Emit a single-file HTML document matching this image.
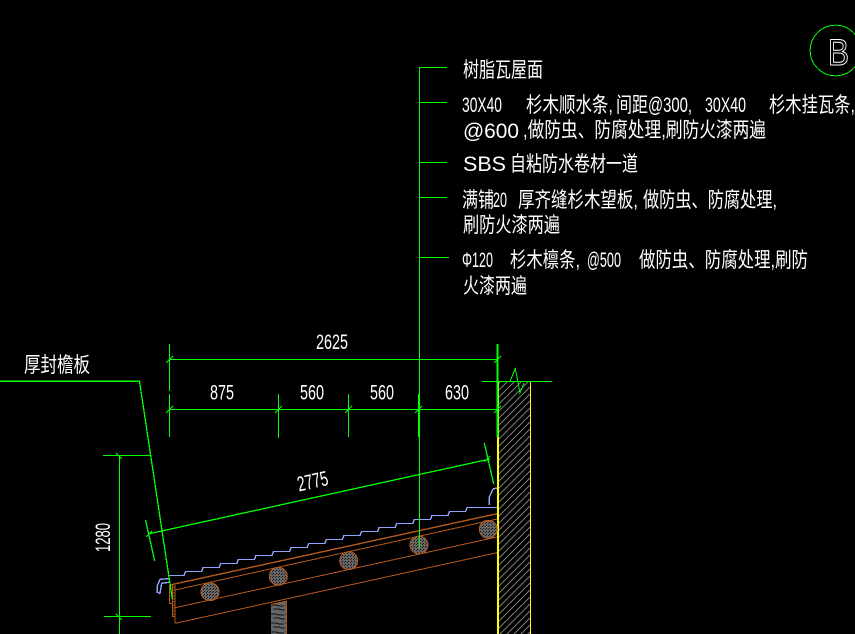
<!DOCTYPE html>
<html>
<head>
<meta charset="utf-8">
<style>
html,body{margin:0;padding:0;background:#000;width:855px;height:634px;overflow:hidden}
svg{display:block;shape-rendering:crispEdges}
.t{font-family:"Liberation Sans","WenQuanYi Zen Hei","Noto Sans CJK SC",sans-serif;fill:#fff;font-size:21px}
.n{font-family:"Liberation Sans",sans-serif;fill:#fff;font-size:21px}
.g{stroke:#0f0;stroke-width:1;fill:none}
.g2{stroke:#0f0;stroke-width:1.3;fill:none}
.br{stroke:#b4591a;stroke-width:1;fill:none}
.bl{stroke:#8ca5ff;stroke-width:1.4;fill:none}
.y{stroke:#ff0;stroke-width:1;fill:none}
</style>
</head>
<body>
<svg width="855" height="634" viewBox="0 0 855 634" xmlns="http://www.w3.org/2000/svg">
<defs>
<pattern id="h" patternUnits="userSpaceOnUse" width="7" height="7">
<path d="M-1 8L8 -1M-1 1L1 -1M6 8L8 6" stroke="#777" stroke-width="1" fill="none"/>
</pattern>
<pattern id="d" patternUnits="userSpaceOnUse" width="3" height="3">
<rect width="3" height="3" fill="#666"/>
<rect x="0" y="0" width="1" height="1" fill="#111"/>
<rect x="2" y="1" width="1" height="1" fill="#222"/>
</pattern>
<pattern id="w" patternUnits="userSpaceOnUse" width="15" height="9">
<rect width="15" height="9" fill="#666"/>
<path d="M0 2H6L9 3H14M3 6H9L12 7H15" stroke="#111" stroke-width="1" fill="none"/>
</pattern>
</defs>
<rect width="855" height="634" fill="#000"/>

<!-- wall -->
<rect x="498" y="382" width="32" height="252" fill="url(#h)"/>
<path class="y" d="M497.5 381.5H530.5V634"/>
<rect x="497" y="381" width="2" height="253" fill="#ff0"/>

<!-- post -->
<path d="M271 604.5L286 601.2V634H271Z" fill="url(#w)"/>
<path class="br" d="M271 604.5L286.3 601.2V634"/>

<!-- purlins -->
<g stroke="#b4591a" stroke-width="1" fill="url(#d)">
<circle cx="210" cy="591.7" r="9"/>
<circle cx="278.3" cy="576.3" r="9"/>
<circle cx="348.7" cy="560.7" r="9"/>
<circle cx="419" cy="545" r="9"/>
<circle cx="488.3" cy="529.3" r="9"/>
</g>

<!-- rafters -->
<path d="M170 585L497 513.7" stroke="#b4591a" stroke-width="1.4" fill="none"/>
<path class="br" d="M175 590L497 519"/>
<path class="br" d="M175 607.7L497 537"/>
<path class="br" d="M175.3 623.3L497 552.7"/>
<path class="br" d="M175 585V623.3M169.3 585V603.3H172.3M172.3 585V616.7H175"/>
<path d="M172.5 587H175M172.5 590H175M172.5 593H175M172.5 596H175M172.5 599H175M172.5 602H175M172.5 605H175M172.5 608H175M172.5 611H175M172.5 614H175" stroke="#b4591a" stroke-width="1"/>

<!-- roof tile line -->
<path class="bl" d="M169 575.5H184l1.5-4h16.1l1.5-4h16.1l1.5-4h16.1l1.5-4h16.1l1.5-4h16.1l1.5-4h16.1l1.5-4h16.1l1.5-4h16.1l1.5-4h16.1l1.5-4h16.1l1.5-4h16.1l1.5-4h16.1l1.5-4h16.1l1.5-4h16.1l1.5-4h16.1l1.5-4h16.1l1.5-4H497"/>
<path class="bl" d="M169 578.7L160 579.3L157.3 586V592.3L160 593.3L161 587.3L161.7 583.3L169 582.3"/>
<path class="bl" d="M489.3 505V497L493 489L497 488"/>

<!-- leader & labels ticks -->
<path class="g" d="M419.5 68V548"/>
<path class="g" d="M419 67.5H447M419 197.5H447M419 257.5H449"/>
<path class="g2" d="M419 102.5H447M419 162.5H447"/>

<!-- dimensions -->
<path class="g" d="M169.5 344V391M169.5 394V437M278.5 394V438M348.5 394V437"/>
<path d="M497.5 344V437" stroke="#0f0" stroke-width="2" fill="none"/>
<path class="g2" d="M418.5 394V437"/>
<path class="g" d="M169.5 359.5H497.5M169.5 409.5H497.5"/>
<path class="g" d="M166 363L173 356M494 363L501 356M166 413L173 406M275 413L282 406M345 413L352 406M415 413L422 406M494 413L501 406"/>

<!-- break line -->
<path class="g" d="M482 381.5H552"/>
<path class="g" d="M510 381.5L515.3 368.5L520 393L524 383"/>

<!-- leader to eave -->
<path class="g2" d="M0 381.3H139.5L172.3 599"/>

<!-- 1280 dim -->
<path class="g" d="M119.5 455V634M103 455.5H150M104 616.5H151M116 453L122 459M116 614L122 620"/>

<!-- 2775 dim -->
<path class="g2" d="M148 534L490 459"/>
<path class="g2" d="M145.5 520L154.7 561M484.3 443L493.7 484"/>
<path class="g" d="M146 537L152 531M484 462L490 456"/>

<!-- circle B -->
<circle cx="835.5" cy="50.5" r="25.3" stroke="#0f0" stroke-width="1" fill="none"/>
<text x="828" y="65" font-family="Liberation Sans, sans-serif" font-size="37" fill="#000" stroke="#fff" stroke-width="1" textLength="21" lengthAdjust="spacingAndGlyphs">B</text>

<!-- notes -->
<text class="t" x="463" y="77" textLength="80" lengthAdjust="spacingAndGlyphs">树脂瓦屋面</text>

<text class="n" x="462" y="112" textLength="40" lengthAdjust="spacingAndGlyphs">30X40</text>
<text class="t" x="526" y="112" textLength="87" lengthAdjust="spacingAndGlyphs">杉木顺水条,</text>
<text class="t" x="616" y="112" textLength="32" lengthAdjust="spacingAndGlyphs">间距</text>
<text class="n" x="648" y="112" textLength="44" lengthAdjust="spacingAndGlyphs">@300,</text>
<text class="n" x="705" y="112" textLength="41" lengthAdjust="spacingAndGlyphs">30X40</text>
<text class="t" x="769" y="112" textLength="86" lengthAdjust="spacingAndGlyphs">杉木挂瓦条,</text>

<text class="n" x="463" y="138" textLength="56" lengthAdjust="spacingAndGlyphs">@600</text>
<text class="t" x="523" y="137" textLength="243" lengthAdjust="spacingAndGlyphs">,做防虫、防腐处理,刷防火漆两遍</text>

<text class="n" x="463" y="171" textLength="43" lengthAdjust="spacingAndGlyphs">SBS</text>
<text class="t" x="510" y="171" textLength="128" lengthAdjust="spacingAndGlyphs">自粘防水卷材一道</text>

<text class="t" x="462" y="207" textLength="32" lengthAdjust="spacingAndGlyphs">满铺</text>
<text class="n" x="493" y="207" textLength="14" lengthAdjust="spacingAndGlyphs">20</text>
<text class="t" x="518" y="207" textLength="120" lengthAdjust="spacingAndGlyphs">厚齐缝杉木望板,</text>
<text class="t" x="643" y="207" textLength="134" lengthAdjust="spacingAndGlyphs">做防虫、防腐处理,</text>
<text class="t" x="463" y="232" textLength="97" lengthAdjust="spacingAndGlyphs">刷防火漆两遍</text>

<text class="n" x="462" y="267" textLength="31" lengthAdjust="spacingAndGlyphs">Φ120</text>
<text class="t" x="510" y="267" textLength="70" lengthAdjust="spacingAndGlyphs">杉木檩条,</text>
<text class="n" x="587" y="267" textLength="34" lengthAdjust="spacingAndGlyphs">@500</text>
<text class="t" x="639" y="267" textLength="169" lengthAdjust="spacingAndGlyphs">做防虫、防腐处理,刷防</text>
<text class="t" x="463" y="293" textLength="64" lengthAdjust="spacingAndGlyphs">火漆两遍</text>

<!-- dim text -->
<text class="n" x="316" y="349" textLength="32" lengthAdjust="spacingAndGlyphs">2625</text>
<text class="n" x="210" y="399.5" textLength="24" lengthAdjust="spacingAndGlyphs">875</text>
<text class="n" x="300" y="399.5" textLength="24" lengthAdjust="spacingAndGlyphs">560</text>
<text class="n" x="370" y="399.5" textLength="24" lengthAdjust="spacingAndGlyphs">560</text>
<text class="n" x="445" y="399.5" textLength="24" lengthAdjust="spacingAndGlyphs">630</text>
<text class="t" x="24" y="372" textLength="66" lengthAdjust="spacingAndGlyphs">厚封檐板</text>
<text class="n" transform="translate(110 552) rotate(-90)" x="0" y="0" textLength="29" lengthAdjust="spacingAndGlyphs">1280</text>
<text class="n" transform="translate(299 491.5) rotate(-12.5)" x="0" y="0" textLength="31" lengthAdjust="spacingAndGlyphs">2775</text>
</svg>
</body>
</html>
